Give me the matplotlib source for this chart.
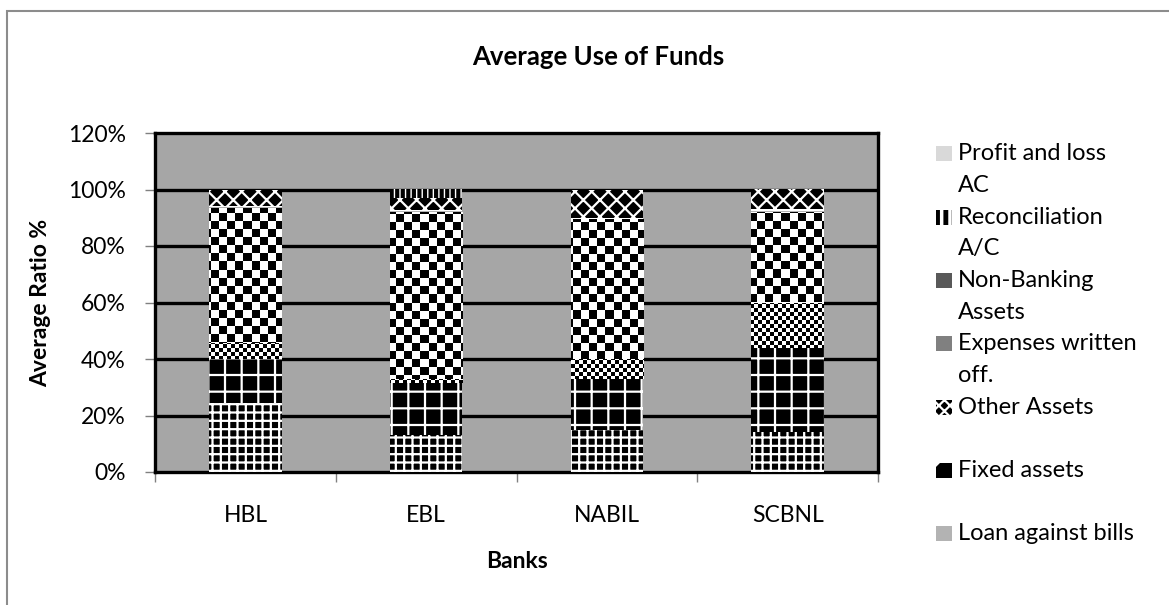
import numpy as np
import matplotlib
matplotlib.use("Agg")
import matplotlib.pyplot as plt
from matplotlib.patches import Rectangle

plt.rcParams.update({
    "font.family": ["Lato", "DejaVu Sans"],
    "font.size": 16.5,
    "hatch.linewidth": 1.6,
})

banks = ["HBL", "EBL", "NABIL", "SCBNL"]

# stacked from the bottom up
cash_balance = [24.5, 13.0, 15.0, 14.0]
bank_balance = [15.5, 18.5, 18.0, 30.0]
investment = [5.5, 1.5, 7.0, 16.0]
loans_advances = [48.0, 59.0, 49.5, 32.0]
loan_against_bills = [0.3, 0.3, 0.2, 0.5]
fixed_assets = [0.3, 0.3, 0.3, 0.5]
other_assets = [5.9, 4.4, 10.0, 7.0]
expenses_written_off = [0.0, 0.0, 0.0, 0.0]
non_banking_assets = [0.0, 0.0, 0.0, 0.0]
reconciliation = [0.0, 3.0, 0.0, 0.0]
profit_loss = [0.0, 0.0, 0.0, 0.0]

yticks = [0, 20, 40, 60, 80, 100, 120]

W, H = 1169, 605
fig = plt.figure(figsize=(W / 100, H / 100), dpi=100)
ax = fig.add_axes([155 / W, 1 - 472 / H, (878 - 155) / W, (472 - 133) / H])
ax.set_facecolor("#a6a6a6")

x = np.arange(len(banks))
bw = 0.4
bottom = np.zeros(len(banks))


def checker(nx, ny):
    return (np.add.outer(np.arange(ny), np.arange(nx)) % 2).astype(float)


def hatch_lw(patch, lw):
    if hasattr(patch, "set_hatch_linewidth"):
        patch.set_hatch_linewidth(lw)


big_chk = checker(90, 42)
small_chk = checker(181, 85)

layers = [
    (cash_balance, dict(color="black", edgecolor="white", hatch="++"), None, 1.6),
    (bank_balance, dict(color="black", edgecolor="white", hatch="+"), None, 1.6),
    (investment, dict(color="white"), small_chk, 1.6),
    (loans_advances, dict(color="white"), big_chk, 1.6),
    (loan_against_bills, dict(color="#b3b3b3"), None, 1.6),
    (fixed_assets, dict(color="white"), None, 1.6),
    (other_assets, dict(color="black", edgecolor="white", hatch="xx"), None, 1.6),
    (expenses_written_off, dict(color="#808080"), None, 1.6),
    (non_banking_assets, dict(color="#595959"), None, 1.6),
    (reconciliation, dict(color="white", edgecolor="black", hatch="|||"), None, 3.0),
    (profit_loss, dict(color="#d9d9d9"), None, 1.6),
]

for vals, style, tex, hlw in layers:
    vals = np.array(vals)
    style = dict(style)
    fc = style.pop("color")
    with plt.rc_context({"hatch.linewidth": hlw}):
        bars = ax.bar(x, vals, bw, bottom=bottom, facecolor=fc, linewidth=0, zorder=3, **style)
    for b in bars:
        hatch_lw(b, hlw)
    if tex is not None:
        for b in bars:
            if b.get_height() <= 0:
                continue
            im = ax.imshow(tex, extent=(-0.5, 3.5, 0, 120), cmap="gray", vmin=0, vmax=1,
                           interpolation="nearest", aspect="auto", zorder=4)
            im.set_clip_path(b)
    bottom += vals

ax.set_xlim(-0.5, 3.5)
ax.set_ylim(0, 120)
ax.set_yticks(yticks)
ax.set_yticklabels([f"{v}%" for v in yticks])
ax.set_xticks(x)
ax.set_xticklabels(banks)
ax.set_xticks(np.arange(-0.5, 4, 1), minor=True)
ax.tick_params(axis="x", which="major", length=0, pad=24)
ax.tick_params(axis="x", which="minor", length=7, color="#808080", width=1)
ax.tick_params(axis="y", length=7, color="#808080", width=1, pad=14)
for yv in yticks[1:-1]:
    ax.axhline(yv, color="black", lw=2.4, zorder=1)
for s in ax.spines.values():
    s.set_color("black")
    s.set_linewidth(2.4)

ax.set_ylabel("Average Ratio %", fontweight="bold", labelpad=12)
ax.set_xlabel("Banks", fontweight="bold", labelpad=18)
fig.text(0.512, 1 - 57 / H, "Average Use of Funds", ha="center", va="center",
         fontsize=18.5, fontweight="bold")

# outer chart border
fig.add_artist(Rectangle((7 / W, -0.1), 1.2, 1.1 - 11 / H, transform=fig.transFigure,
                         fill=False, ec="#8c8c8c", lw=1.5))

# legend (clipped like the original)
leg = [
    (["Profit and loss", "AC"], dict(fc="#d9d9d9"), 1.6),
    (["Reconciliation", "A/C"], dict(fc="white", ec="black", hatch="||"), 3.5),
    (["Non-Banking", "Assets"], dict(fc="#595959"), 1.6),
    (["Expenses written", "off."], dict(fc="#808080"), 1.6),
    (["Other Assets"], dict(fc="black", ec="white", hatch="xxx"), 1.6),
    (["Fixed assets"], dict(fc="black", ec="white", hatch="/"), 3.0),
    (["Loan against bills"], dict(fc="#b3b3b3"), 1.6),
]
for i, (lines, st, hlw) in enumerate(leg):
    yc = 154 + i * 63.3
    with plt.rc_context({"hatch.linewidth": hlw}):
        r = Rectangle((936 / W, 1 - (yc + 7.5) / H), 16 / W, 15 / H,
                      transform=fig.transFigure, lw=0, **st)
    hatch_lw(r, hlw)
    fig.add_artist(r)
    for j, t in enumerate(lines):
        fig.text(958 / W, 1 - (yc + j * 31.5) / H, t, ha="left", va="center", fontsize=17)

fig.savefig("out.png", dpi=100)
